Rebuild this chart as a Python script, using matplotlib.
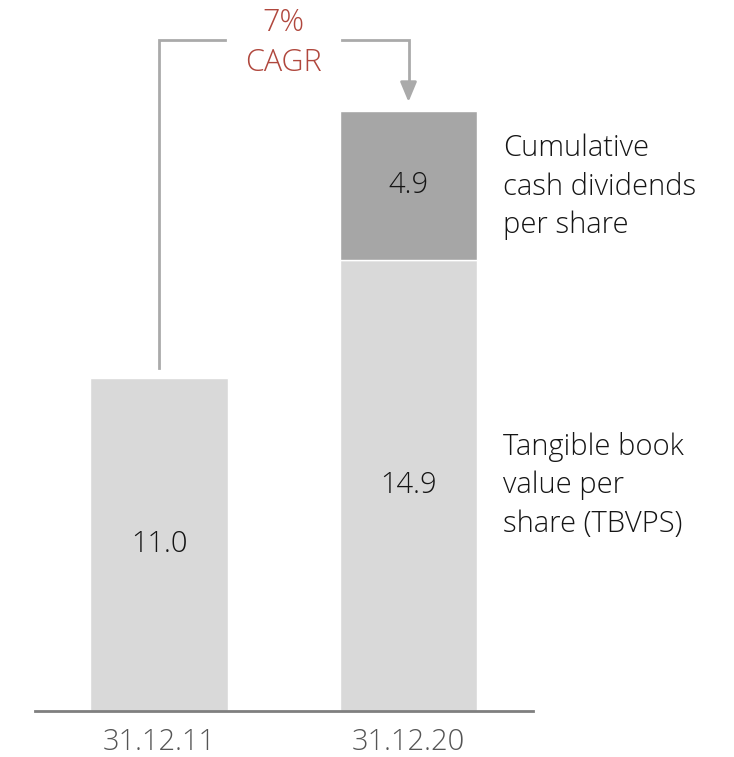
import numpy as np
import matplotlib.pyplot as plt

plt.rcParams['font.family'] = ['Open Sans', 'DejaVu Sans']

dates = ['31.12.11', '31.12.20']
tbvps = [11.0, 14.9]
dividends = [0.0, 4.9]
cagr_label = '7%\nCAGR'
tbvps_label = 'Tangible book\nvalue per\nshare (TBVPS)'
div_label = 'Cumulative\ncash dividends\nper share'

light = '#d9d9d9'
dark = '#a6a6a6'
line_grey = '#aaaaaa'
red = '#b0473d'
ink = '#151515'

fig = plt.figure(figsize=(7.34, 7.57), dpi=100)
ax = fig.add_axes([35 / 734, 1 - 711 / 757, 498 / 734, 711 / 757])

x = np.arange(len(dates))
w = 0.553
ax.bar(x, tbvps, width=w, color=light, edgecolor='white', linewidth=1)
ax.bar(x[1], dividends[1], bottom=tbvps[1], width=w, color=dark,
       edgecolor='white', linewidth=1)

for i in x:
    ax.text(i, tbvps[i] / 2, f'{tbvps[i]:.1f}', ha='center', va='center',
            fontsize=21, color=ink, fontweight='light')
ax.text(1, tbvps[1] + dividends[1] / 2, f'{dividends[1]:.1f}', ha='center',
        va='center', fontsize=21, color=ink, fontweight='light')

# side labels next to the stacked bar
ax.text(1.38, tbvps[1] / 2, tbvps_label, ha='left', va='center', fontsize=21,
        color=ink, linespacing=1.4, fontweight='light', clip_on=False)
ax.text(1.38, tbvps[1] + dividends[1] / 2 - 0.05, div_label, ha='left',
        va='center', fontsize=21, color=ink, linespacing=1.4,
        fontweight='light', clip_on=False)

# CAGR bracket
top_y = 22.15
total = tbvps[1] + dividends[1]
ax.plot([0, 0, 0.266], [tbvps[0] + 0.33, top_y, top_y], color=line_grey, lw=2,
        solid_joinstyle='miter')
ax.plot([0.733, 1, 1], [top_y, top_y, total + 0.7], color=line_grey, lw=2,
        solid_joinstyle='miter')
ax.annotate('', xy=(1, total + 0.3), xytext=(1, total + 0.9),
            arrowprops=dict(arrowstyle='-|>,head_length=1.2,head_width=0.5',
                            color=line_grey, lw=2, shrinkA=0, shrinkB=0))
ax.text(0.5, top_y - 0.1, cagr_label, ha='center', va='center', fontsize=22,
        color=red, linespacing=1.35, fontweight='light')

ax.set_xlim(-0.497, 1.499)
ax.set_ylim(0, 711 / 30.3)
ax.set_xticks(x)
ax.set_xticklabels(dates, fontsize=21, color='#555555', fontweight='light')
ax.tick_params(axis='x', length=0, pad=12)
ax.set_yticks([])
for s in ['top', 'left', 'right']:
    ax.spines[s].set_visible(False)
ax.spines['bottom'].set_color('#7f7f7f')
ax.spines['bottom'].set_linewidth(2)

fig.savefig('out.png', dpi=100)
